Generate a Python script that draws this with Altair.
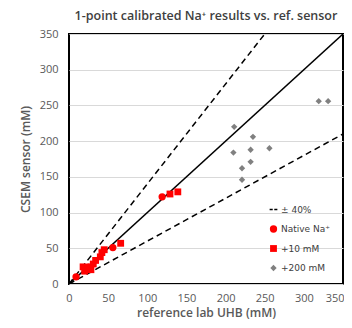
import altair as alt
import pandas as pd

# ---- data ----
native_x = [9, 25, 56, 119]
native_y = [10, 24, 51, 122]

plus10_x = [18, 20, 28, 31, 34, 40, 42, 45, 66, 129, 139]
plus10_y = [24, 18, 20, 28, 33, 38, 44, 48, 57, 126, 129]

plus200_x = [211, 235, 210, 232, 256, 232, 221, 221, 319, 331]
plus200_y = [220, 206, 184, 188, 190, 171, 162, 146, 256, 256]

series_names = ["± 40%", "Native Na⁺", "+10 mM", "+200 mM"]
series_colors = ["#000000", "#ff0000", "#ff0000", "#808080"]
dash_icon = "M-1,-0.18H-0.2V0.18H-1Z M0.2,-0.18H1V0.18H0.2Z"
series_shapes = [dash_icon, "circle", "square", "diamond"]

line_names = ["upper", "unity", "lower"]
line_slopes = [1.4, 1.0, 0.6]
line_dashed = [True, False, True]
line_x_ends = [0, 350]

axis_ticks = [0, 50, 100, 150, 200, 250, 300, 350]

# ---- tables ----
pts = pd.concat([
    pd.DataFrame({"x": native_x, "y": native_y, "series": "Native Na⁺"}),
    pd.DataFrame({"x": plus10_x, "y": plus10_y, "series": "+10 mM"}),
    pd.DataFrame({"x": plus200_x, "y": plus200_y, "series": "+200 mM"}),
], ignore_index=True)

rows = []
for n, s, d in zip(line_names, line_slopes, line_dashed):
    for xv in line_x_ends:
        rows.append({"x": xv, "y": xv * s, "line": n, "dashed": d})
lines = pd.DataFrame(rows)

FONT = "Open Sans"
GRAY = "#595959"

xscale = alt.Scale(domain=[0, 350], nice=False, zero=False)
yscale = alt.Scale(domain=[0, 350], nice=False, zero=False)

xaxis = alt.Axis(values=axis_ticks, grid=False, domain=False, ticks=False,
                 labelOverlap=False, labelFlush=False,
                 labelAlign=alt.ExprRef("datum.value >= 350 ? 'right' : 'center'"),
                 labelOffset=alt.ExprRef("datum.value >= 350 ? 1 : 0"),
                 labelPadding=8, labelColor=GRAY, labelFontSize=11, labelFont=FONT,
                 title="reference lab UHB (mM)", titleColor=GRAY, titleFontSize=12,
                 titleFont=FONT, titleFontWeight=600, titlePadding=4)
yaxis = alt.Axis(values=axis_ticks, grid=True, gridColor="#d9d9d9", gridWidth=1,
                 domain=False, ticks=False, labelOverlap=False, labelFlush=False,
                 labelPadding=11, labelColor=GRAY, labelFontSize=11, labelFont=FONT,
                 title="CSEM sensor (mM)", titleColor=GRAY, titleFontSize=12,
                 titleFont=FONT, titleFontWeight=600, titlePadding=7)

X = alt.X("x:Q", scale=xscale, axis=xaxis)
Y = alt.Y("y:Q", scale=yscale, axis=yaxis)

dashed_lines = alt.Chart(lines[lines["dashed"]]).mark_line(
    color="black", strokeWidth=1.5, strokeDash=[6, 4], clip=True
).encode(x=X, y=Y, detail="line:N")

solid_line = alt.Chart(lines[~lines["dashed"]]).mark_line(
    color="black", strokeWidth=1.5, clip=True
).encode(x=X, y=Y)

points = alt.Chart(pts).mark_point(filled=True, opacity=1, clip=True).encode(
    x=X, y=Y,
    color=alt.Color("series:N",
                    scale=alt.Scale(domain=series_names, range=series_colors),
                    legend=alt.Legend(
                        title=None, orient="none", legendX=200, legendY=171,
                        labelFont="DejaVu Sans", labelFontSize=9, labelColor="#404040",
                        symbolSize=48, rowPadding=9.5, labelOffset=3,
                        symbolStrokeWidth=0, symbolOpacity=1)),
    shape=alt.Shape("series:N",
                    scale=alt.Scale(domain=series_names, range=series_shapes)),
    size=alt.Size("series:N",
                  scale=alt.Scale(domain=series_names, range=[60, 40, 60, 50]),
                  legend=None),
)

chart = alt.layer(dashed_lines, solid_line, points).properties(
    width=274, height=250,
    background="white",
    autosize=alt.AutoSizeParams(type="none"),
    padding={"left": 61, "top": 26, "right": 1, "bottom": 36},
    title=alt.Title("1-point calibrated Na⁺ results vs. ref. sensor",
                    font=FONT, fontSize=12.5, fontWeight=600, color="#404040",
                    anchor="middle", offset=6),
).configure_view(
    stroke="black", strokeWidth=2
)

chart.save("out.html", embed_options={"renderer": "svg", "actions": False})
